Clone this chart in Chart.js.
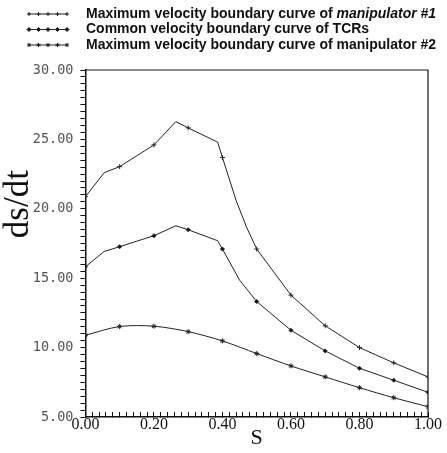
<!DOCTYPE html>
<html>
<head>
<meta charset="utf-8">
<script src="https://cdn.jsdelivr.net/npm/chart.js@4.4.1/dist/chart.umd.min.js"></script>
<style>
  body { margin: 0; background: #fff; }
  canvas { display: block; }
</style>
</head>
<body>
<canvas id="VelocityChart" width="447" height="453"></canvas>
<script>
// values
const seriesNames = [
    'Maximum velocity boundary curve of ',
    'Common velocity boundary curve of TCRs',
    'Maximum velocity boundary curve of '
];
const seriesNameTails = ['manipulator #1', '', 'manipulator #2'];

const manip1_s = [0, 0.055, 0.1, 0.2, 0.264, 0.3, 0.386, 0.4, 0.44, 0.47, 0.5, 0.6, 0.7, 0.8, 0.9, 1.0];
const manip1_v = [20.87, 22.6, 23.04, 24.6, 26.28, 25.83, 24.8, 23.7, 20.6, 18.7, 17.1, 13.78, 11.57, 10.0, 8.9, 7.89];

const common_s = [0, 0.055, 0.1, 0.2, 0.264, 0.3, 0.386, 0.4, 0.45, 0.5, 0.6, 0.7, 0.8, 0.9, 1.0];
const common_v = [15.82, 16.93, 17.27, 18.06, 18.78, 18.49, 17.7, 17.1, 14.86, 13.32, 11.25, 9.76, 8.51, 7.65, 6.78];

const manip2_s = [0, 0.1, 0.2, 0.3, 0.4, 0.5, 0.6, 0.7, 0.8, 0.9, 1.0];
const manip2_v = [10.89, 11.52, 11.54, 11.15, 10.48, 9.57, 8.68, 7.89, 7.11, 6.39, 5.74];

const yTickStep = 0.5;
const xTickStep = 0.02;

function toPoints(xs, ys) {
    return xs.map((x, i) => ({x: x, y: ys[i]}));
}

function isMultiple(v, step) {
    const q = v / step;
    return Math.abs(q - Math.round(q)) < 1e-6;
}

// markers only on the 0.1 grid of S
const markerRadius = (r) => (context) => {
    const raw = context.raw;
    return raw && isMultiple(raw.x, 0.1) ? r : 0;
};

// top and right border of the plot box
const frame = {
    id: 'frame',
    beforeDatasetsDraw(chart) {
        const {ctx, chartArea} = chart;
        ctx.save();
        ctx.strokeStyle = '#111';
        ctx.lineWidth = 1.2;
        ctx.beginPath();
        ctx.moveTo(chartArea.left, chartArea.top);
        ctx.lineTo(chartArea.right, chartArea.top);
        ctx.lineTo(chartArea.right, chartArea.bottom);
        ctx.stroke();
        ctx.restore();
    }
};

// legend: sample line with markers, then the text
const curveLegend = {
    id: 'curveLegend',
    afterDraw(chart) {
        const ctx = chart.ctx;
        ctx.save();
        chart.data.datasets.forEach((ds, i) => {
            const y = 14 + i * 15.5;
            ctx.strokeStyle = '#222';
            ctx.lineWidth = 1;
            ctx.beginPath();
            ctx.moveTo(28, y);
            ctx.lineTo(67, y);
            ctx.stroke();
            for (let k = 0; k < 5; k++) {
                Chart.helpers.drawPoint(ctx, {
                    pointStyle: ds.pointStyle,
                    radius: 2,
                    borderWidth: 1
                }, 29 + k * 9.5, y);
            }
            ctx.fillStyle = '#111';
            ctx.textBaseline = 'middle';
            ctx.font = 'bold 14px "Liberation Sans", Arial, sans-serif';
            ctx.fillText(seriesNames[i], 86, y);
            if (seriesNameTails[i]) {
                const w = ctx.measureText(seriesNames[i]).width;
                if (i === 0) {
                    ctx.font = 'italic bold 14px "Liberation Sans", Arial, sans-serif';
                }
                ctx.fillText(seriesNameTails[i], 86 + w, y);
            }
        });
        ctx.restore();
    }
};

new Chart(
    document.getElementById('VelocityChart'),
    {
        type: 'line',
        data: {
            datasets: [
                {
                    label: seriesNames[0] + seriesNameTails[0],
                    data: toPoints(manip1_s, manip1_v),
                    borderColor: '#222',
                    pointStyle: 'cross',
                },
                {
                    label: seriesNames[1],
                    data: toPoints(common_s, common_v),
                    borderColor: '#222',
                    pointStyle: 'rectRot',
                    pointRadius: markerRadius(2),
                },
                {
                    label: seriesNames[2] + seriesNameTails[2],
                    data: toPoints(manip2_s, manip2_v),
                    borderColor: '#222',
                    pointStyle: 'star',
                    tension: 0.3,
                }
            ]
        },
        options: {
            responsive: false,
            animation: false,
            layout: {
                padding: {top: 70, right: 14, bottom: 0, left: 4}
            },
            elements: {
                line: {
                    borderWidth: 1,
                    tension: 0,
                },
                point: {
                    radius: markerRadius(2.5),
                    borderWidth: 1,
                    borderColor: '#111',
                    backgroundColor: '#111',
                }
            },
            plugins: {
                legend: {display: false},
                tooltip: {enabled: false}
            },
            scales: {
                x: {
                    type: 'linear',
                    min: 0,
                    max: 1,
                    afterFit: (scale) => { scale.height = 36; },
                    grid: {
                        drawOnChartArea: false,
                        color: '#111',
                        tickLength: -5,
                    },
                    border: {color: '#111', width: 1.5},
                    ticks: {
                        stepSize: xTickStep,
                        autoSkip: false,
                        maxRotation: 0,
                        padding: 5,
                        color: '#111',
                        font: {family: '"Liberation Serif", "Times New Roman", serif', size: 16, lineHeight: 1},
                        callback: (value) => isMultiple(value, 0.2) ? value.toFixed(2) : ''
                    },
                    title: {
                        display: true,
                        text: 'S',
                        color: '#111',
                        padding: 0,
                        font: {family: '"Liberation Serif", "Times New Roman", serif', size: 22, lineHeight: 1.36}
                    }
                },
                y: {
                    min: 5,
                    max: 30,
                    afterFit: (scale) => { scale.width -= 8; },
                    grid: {
                        drawOnChartArea: false,
                        color: '#111',
                        tickLength: 5,
                    },
                    border: {color: '#111', width: 1.5},
                    ticks: {
                        stepSize: yTickStep,
                        autoSkip: false,
                        padding: 7,
                        color: '#555',
                        font: {family: '"DejaVu Sans Mono", monospace', size: 13.5},
                        callback: (value) => isMultiple(value, 5) ? value.toFixed(2) : ''
                    },
                    title: {
                        display: true,
                        text: '         ds/dt',
                        color: '#111',
                        padding: 0,
                        font: {family: '"Liberation Serif", "Times New Roman", serif', size: 35, lineHeight: 0.85}
                    }
                }
            }
        },
        plugins: [frame, curveLegend]
    }
);
</script>
</body>
</html>
